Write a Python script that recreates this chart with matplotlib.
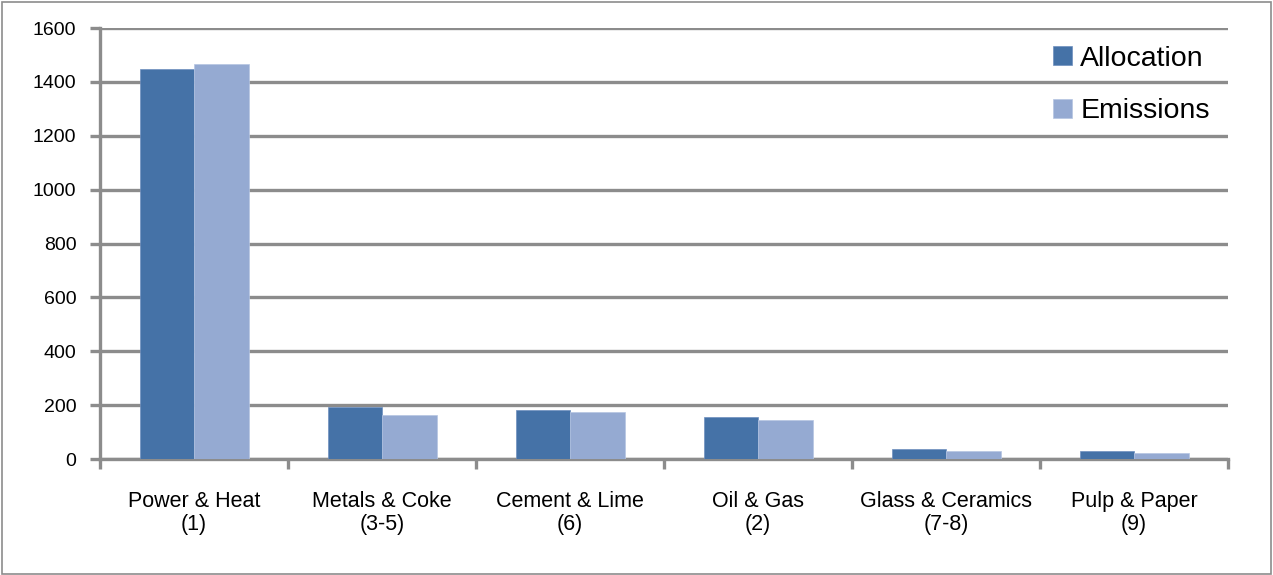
import matplotlib.pyplot as plt
import numpy as np
from matplotlib.patches import Rectangle

plt.rcParams['font.family'] = ['Liberation Sans', 'DejaVu Sans']

# data
categories = ['Power & Heat\n(1)', 'Metals & Coke\n(3-5)', 'Cement & Lime\n(6)',
              'Oil & Gas\n(2)', 'Glass & Ceramics\n(7-8)', 'Pulp & Paper\n(9)']
allocation = [1446, 194, 182, 156, 37, 30]
emissions = [1465, 163, 174, 144, 30, 23]
yticks = [0, 200, 400, 600, 800, 1000, 1200, 1400, 1600]

c_alloc = '#4572a7'
c_emis = '#95aad2'
grid_c = '#8c8c8c'

fig = plt.figure(figsize=(12.73, 5.75), dpi=100)
ax = fig.add_axes([0.0786, 0.2017, 0.8861, 0.7496])

# chart border
fig.patches.append(Rectangle((0.0015, 0.002), 0.997, 0.995, transform=fig.transFigure,
                             fill=False, edgecolor='#8c8c8c', linewidth=1.2))

x = np.arange(len(categories))
w = 0.29
ax.bar(x - w / 2, allocation, w, color=c_alloc, label='Allocation', zorder=3,
       edgecolor='#6e8fbf', linewidth=0.5)
ax.bar(x + w / 2, emissions, w, color=c_emis, label='Emissions', zorder=3,
       edgecolor='#b5c5e2', linewidth=0.5)

ax.set_xlim(-0.5, len(categories) - 0.5)
ax.set_ylim(0, 1600)
ax.set_yticks(yticks)
ax.set_yticklabels([str(v) for v in yticks], fontsize=14)
ax.yaxis.grid(True, color=grid_c, linewidth=2.4, zorder=0)
ax.set_axisbelow(True)

# category boundary ticks
ax.set_xticks(np.arange(len(categories) + 1) - 0.5)
ax.set_xticklabels([])
ax.set_xticks(x, minor=True)
ax.set_xticklabels(categories, minor=True, fontsize=15.5, linespacing=1.12)
ax.tick_params(axis='x', which='minor', length=0, pad=23)
ax.tick_params(axis='x', which='major', length=7, width=2.4, color=grid_c)
ax.tick_params(axis='y', length=7, width=2.4, color=grid_c, pad=10)

for s in ['top', 'right']:
    ax.spines[s].set_visible(False)
for s in ['left', 'bottom']:
    ax.spines[s].set_color(grid_c)
    ax.spines[s].set_linewidth(2.4)

leg = ax.legend(loc='upper right', frameon=False, fontsize=20.5, handlelength=0.65,
                handleheight=0.65, handletextpad=0.3, labelspacing=0.92,
                borderaxespad=0, bbox_to_anchor=(0.994, 0.985))

fig.savefig('out.png', dpi=100)
